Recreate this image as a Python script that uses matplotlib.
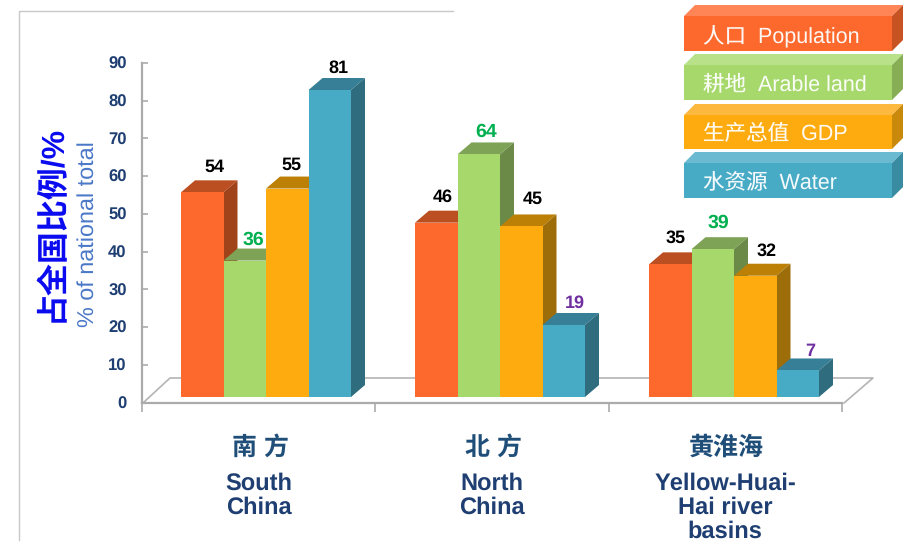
import matplotlib
matplotlib.use("Agg")
import matplotlib.pyplot as plt
from matplotlib.patches import Polygon, Rectangle

W, H = 920, 545
plt.rcParams['font.family'] = ['Liberation Sans', 'Noto Sans CJK SC', 'DejaVu Sans']
plt.rcParams['text.hinting'] = 'no_hinting'
plt.rcParams['text.kerning_factor'] = 6

# Shares of the national total, by region
regions_zh = ["南 方", "北 方", "黄淮海"]
regions_en = ["South\nChina", "North\nChina", "Yellow-Huai-\nHai river\nbasins"]
series_zh = ["人口", "耕地", "生产总值", "水资源"]
series_en = ["Population", "Arable land", "GDP", "Water"]
population = [54, 46, 35]
arable_land = [36, 64, 39]
gdp = [55, 45, 32]
water = [81, 19, 7]
label_colors = [
    ["#000000", "#00B050", "#000000", "#000000"],
    ["#000000", "#00B050", "#000000", "#7030A0"],
    ["#000000", "#00B050", "#000000", "#7030A0"],
]
y_ticks = list(range(0, 100, 10))

# Hand placement of each value label, in points from its default spot
label_nudges = [
    [(3, 1), (0, -2), (-3, 0), (0, -1)],
    [(-1, 1), (-1, -1), (2, 3), (2, -1)],
    [(-2, 2), (-2, 2), (2, 1), (3, -3)],
]

# (front, top, side) shades per series, then legend (front, top, side)
bar_shades = [
    ("#FD682C", "#BC4F22", "#A0421A"),
    ("#A6D86C", "#7FA356", "#6B8A48"),
    ("#FDAB0F", "#BC8006", "#9C6D08"),
    ("#47ABC6", "#377F96", "#2E6C7E"),
]
legend_shades = [
    ("#FD682C", "#FF8557", "#C75322"),
    ("#A6D86C", "#B9E18A", "#87AE55"),
    ("#FDAB0F", "#FDB93F", "#C98A0C"),
    ("#47ABC6", "#6ABBD1", "#388BA0"),
]
NAVY = "#1F3F73"
GRAY = "#ABABAB"

fig = plt.figure(figsize=(W / 100, H / 100), dpi=100, facecolor="white")


def rect(x0, y_top, x1, y_bottom):
    """Axes rectangle from pixel bounds measured from the top-left corner."""
    return [x0 / W, 1 - y_bottom / H, (x1 - x0) / W, (y_bottom - y_top) / H]


# Pixel layer: page frame, chart floor and legend blocks
bg = fig.add_axes([0, 0, 1, 1], zorder=0)
bg.set_xlim(0, W)
bg.set_ylim(H, 0)
bg.axis("off")
bg.plot([19, 19, 453], [540, 11, 11], color="#C8C8C8", lw=1.0)
bg.plot([144, 170, 873, 844], [402, 378, 378, 403], color="#B4B4B4", lw=1.2)

legend_tops = [16, 65, 115, 163]
legend_bottoms = [51, 100, 149, 198]
for top, bottom, (front, upper, side), zh, en in zip(
        legend_tops, legend_bottoms, legend_shades, series_zh, series_en):
    bg.add_patch(Polygon([(684, top), (892, top), (903, top - 11), (695, top - 11)],
                         fc=upper, ec="none"))
    bg.add_patch(Polygon([(892, top), (903, top - 11), (903, bottom - 11), (892, bottom)],
                         fc=side, ec="none"))
    bg.add_patch(Rectangle((684, top), 208, bottom - top, fc=front, ec="none"))
    bg.text(703, (top + bottom) / 2 + 2, f"{zh}  {en}", color="white", fontsize=15.5,
            va="center", ha="left", alpha=0.95)

# Value axis and region axis
ax = fig.add_axes(rect(142, 63, 842, 402.5), zorder=1)
ax.patch.set_alpha(0)
ax.set_xlim(-0.5, 2.5)
ax.set_ylim(0, 90)
for s in ("top", "right"):
    ax.spines[s].set_visible(False)
for s in ("left", "bottom"):
    ax.spines[s].set_color(GRAY)
    ax.spines[s].set_linewidth(1.6)
ax.set_yticks(y_ticks)
ax.set_yticklabels([str(t) for t in y_ticks], fontsize=12, fontweight="bold", color=NAVY,
                   va="center_baseline")
ax.tick_params(axis="y", direction="in", length=4.5, width=1.2, color=GRAY, pad=11)
ax.set_xticks([-0.5, 0.5, 1.5, 2.5])
ax.set_xticklabels([])
ax.tick_params(axis="x", direction="out", length=6.5, width=1.2, color=GRAY)

for i, (zh, en) in enumerate(zip(regions_zh, regions_en)):
    ax.annotate(zh, (i, 0), xytext=(1, -32.5), textcoords="offset points", ha="center",
                va="center", fontsize=18, fontweight="bold", color="#1F4E79",
                annotation_clip=False)
    ax.annotate(en, (i, 0), xytext=(0, -50), textcoords="offset points", ha="center",
                va="top", fontsize=17, fontweight="bold", color=NAVY, linespacing=1.1,
                annotation_clip=False)

fig.text(52 / W, 1 - 223 / H, "占全国比例/%", rotation=90, ha="center", va="center",
         fontsize=23, fontweight="bold", color="#0A0AF0")
fig.text(88 / W, 1 - 234 / H, "% of national total", rotation=90, ha="center", va="center",
         fontsize=16.8, color="#4A78C8")

# Bars stand on the raised floor, so their axes sits inside the value axis
SCALE = 3.79                 # pixels per percentage point
DX_PX, DY_PX = 14.0, 12.0    # 3D extrusion of each bar
UNIT_PX = 234.0
bars = fig.add_axes(rect(0, 0, W, 397), zorder=2)
bars.patch.set_alpha(0)
bars.axis("off")
bars.set_xlim(-266 / UNIT_PX, (W - 266) / UNIT_PX)
bars.set_ylim(0, 397 / SCALE)
dx = DX_PX / UNIT_PX
dy = DY_PX / SCALE
bar_w = 42.5 / UNIT_PX

for g, region_values in enumerate(zip(population, arable_land, gdp, water)):
    for b, value in enumerate(region_values):
        x0 = g + (b - 2) * bar_w
        x1 = x0 + bar_w
        front, top, side = bar_shades[b]
        bars.add_patch(Polygon([(x0, value), (x1, value), (x1 + dx, value + dy), (x0 + dx, value + dy)],
                               fc=top, ec="none", clip_on=False))
        bars.add_patch(Polygon([(x1, 0), (x1 + dx, dy), (x1 + dx, value + dy), (x1, value)],
                               fc=side, ec="none", clip_on=False))
        bars.add_patch(Rectangle((x0, 0), bar_w, value, fc=front, ec="none", clip_on=False))
        color = label_colors[g][b]
        nx, ny = label_nudges[g][b]
        bars.annotate(str(value), ((x0 + x1) / 2, value), xytext=(6 + nx, 17 + ny),
                      textcoords="offset points", ha="center", va="center",
                      fontsize=14 if color == "#00B050" else 13, fontweight="bold",
                      color=color, annotation_clip=False)

fig.savefig("out.png", dpi=100)
